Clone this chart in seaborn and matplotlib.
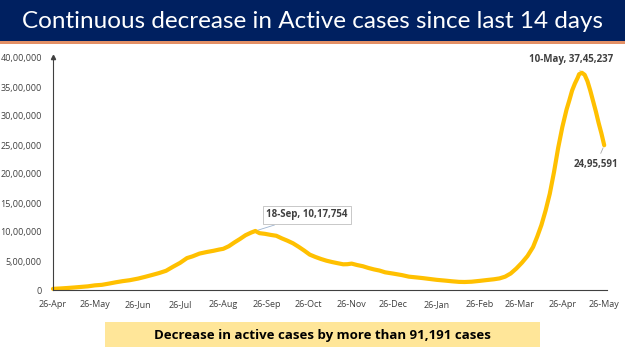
import matplotlib
matplotlib.use("Agg")
import matplotlib.pyplot as plt
import matplotlib.dates as mdates
from matplotlib.patches import Rectangle
from matplotlib.ticker import FuncFormatter
import seaborn as sns
import pandas as pd

# active cases (26 Apr 2020 - 26 May 2021)
dates = [
    "2020-04-26", "2020-05-01", "2020-05-06", "2020-05-11", "2020-05-16", "2020-05-21",
    "2020-05-26", "2020-05-31", "2020-06-05", "2020-06-10", "2020-06-15", "2020-06-20",
    "2020-06-26", "2020-07-01", "2020-07-06", "2020-07-11", "2020-07-16", "2020-07-21",
    "2020-07-26", "2020-07-31", "2020-08-04", "2020-08-09", "2020-08-14", "2020-08-19",
    "2020-08-23", "2020-08-26", "2020-08-30", "2020-09-03", "2020-09-07", "2020-09-11",
    "2020-09-15", "2020-09-18", "2020-09-21", "2020-09-25", "2020-09-29", "2020-10-03",
    "2020-10-07", "2020-10-11", "2020-10-15", "2020-10-19", "2020-10-23", "2020-10-27",
    "2020-10-31", "2020-11-04", "2020-11-08", "2020-11-12", "2020-11-16", "2020-11-20",
    "2020-11-23", "2020-11-26", "2020-11-30", "2020-12-04", "2020-12-08", "2020-12-12",
    "2020-12-16", "2020-12-20", "2020-12-26", "2021-01-01", "2021-01-06", "2021-01-11",
    "2021-01-16", "2021-01-21", "2021-01-26", "2021-02-01", "2021-02-06", "2021-02-11",
    "2021-02-15", "2021-02-20", "2021-02-26", "2021-03-03", "2021-03-08", "2021-03-12",
    "2021-03-16", "2021-03-20", "2021-03-24", "2021-03-28", "2021-04-01", "2021-04-05",
    "2021-04-08", "2021-04-11", "2021-04-14", "2021-04-17", "2021-04-20", "2021-04-23",
    "2021-04-26", "2021-04-29", "2021-05-01", "2021-05-03", "2021-05-05", "2021-05-07",
    "2021-05-08", "2021-05-10", "2021-05-12", "2021-05-14", "2021-05-16", "2021-05-18",
    "2021-05-20", "2021-05-22", "2021-05-24", "2021-05-26",
]
active = [
    20177, 26000, 34000, 43000, 53000, 63000,
    80000, 89000, 110000, 133000, 153000, 169000,
    197000, 227000, 259000, 292000, 331000, 401000,
    467000, 550000, 580000, 628000, 654000, 676000,
    697000, 710000, 755000, 820000, 880000, 945000,
    990000, 1017754, 980000, 968000, 950000, 935000,
    890000, 850000, 805000, 745000, 680000, 610000,
    570000, 535000, 505000, 482000, 462000, 443000,
    445000, 455000, 430000, 410000, 380000, 355000,
    335000, 305000, 282000, 257000, 230000, 218000,
    205000, 190000, 175000, 162000, 150000, 140000,
    138000, 143000, 158000, 172000, 185000, 200000,
    230000, 285000, 370000, 470000, 585000, 740000,
    920000, 1120000, 1370000, 1660000, 2030000, 2450000,
    2810000, 3110000, 3270000, 3440000, 3560000, 3660000,
    3720000, 3745237, 3710000, 3600000, 3440000, 3260000,
    3080000, 2880000, 2700000, 2495591,
]

title = "Continuous decrease in Active cases since last 14 days"
footer = "Decrease in active cases by more than 91,191 cases"
tick_dates = pd.date_range("2020-04-26", periods=14, freq=pd.DateOffset(months=1))
y_ticks = list(range(0, 4000001, 500000))


def indian(v, pos=None):
    v = int(round(v))
    if v == 0:
        return "0"
    s = str(v)
    last3, rest = s[-3:], s[:-3]
    groups = []
    while len(rest) > 2:
        groups.insert(0, rest[-2:])
        rest = rest[:-2]
    if rest:
        groups.insert(0, rest)
    return ",".join(groups + [last3])


df = pd.DataFrame({"date": pd.to_datetime(dates), "active": active})

sns.set_style("white")
plt.rcParams["font.family"] = ["Open Sans", "DejaVu Sans"]

fig = plt.figure(figsize=(6.25, 3.51), dpi=100)

# header bar
fig.patches.append(Rectangle((0, 1 - 41 / 351), 1, 41 / 351, transform=fig.transFigure,
                             fc="#002060", ec="none", zorder=0))
fig.patches.append(Rectangle((0, 1 - 44 / 351), 1, 3 / 351, transform=fig.transFigure,
                             fc="#E39066", ec="none", zorder=0))
fig.text(0.5, 1 - 21 / 351, title, color="white", fontsize=17.5, ha="center", va="center",
         family=["Lato", "DejaVu Sans"])

# footer banner
fig.patches.append(Rectangle((105 / 625, 1 - 347 / 351), 435 / 625, 25 / 351,
                             transform=fig.transFigure, fc="#FFE699", ec="none", zorder=0))
fig.text(322 / 625, 1 - 335 / 351, footer, color="black", fontsize=9.5, fontweight="bold",
         ha="center", va="center")

ax = fig.add_axes([53 / 625, 61 / 351, 554 / 625, 232 / 351])
sns.lineplot(data=df, x="date", y="active", ax=ax, color="#FFC000", lw=3, clip_on=False)

x0 = pd.Timestamp("2020-04-26")
ax.set_xlim(x0, x0 + pd.Timedelta(days=397))
ax.set_ylim(0, 4000000)
ax.set_xticks(tick_dates)
ax.xaxis.set_major_formatter(mdates.DateFormatter("%d-%b"))
ax.set_yticks(y_ticks)
ax.yaxis.set_major_formatter(FuncFormatter(indian))
ax.set_xlabel("")
ax.set_ylabel("")

for side in ["top", "right"]:
    ax.spines[side].set_visible(False)
for side in ["left", "bottom"]:
    ax.spines[side].set_color("#404040")
    ax.spines[side].set_linewidth(0.8)
ax.tick_params(axis="x", direction="out", length=4, width=0.8, color="#404040",
               labelsize=6.5, labelcolor="#404040", pad=3)
ax.tick_params(axis="y", length=0, labelsize=6.5, labelcolor="#404040", pad=8)
ax.plot(0, 1.005, marker="^", ms=3, color="#404040", transform=ax.transAxes, clip_on=False)

# callouts
ann = dict(fontsize=7, fontweight="bold", color="#404040", ha="center", va="center",
           textcoords="offset points")
ax.annotate("18-Sep, 10,17,754", xy=(pd.Timestamp("2020-09-18"), 1017754), xytext=(37, 11.5),
            bbox=dict(boxstyle="square,pad=0.35", fc="white", ec="#BFBFBF", lw=0.6),
            arrowprops=dict(arrowstyle="-", color="#9DB3CF", lw=0.6), **ann)
ax.annotate("10-May, 37,45,237", xy=(pd.Timestamp("2021-05-10"), 3745237), xytext=(-8, 9.5),
            arrowprops=dict(arrowstyle="-", color="#A6A6A6", lw=0.6), **ann)
ax.annotate("24,95,591", xy=(pd.Timestamp("2021-05-26"), 2495591), xytext=(-6, -14),
            arrowprops=dict(arrowstyle="-", color="#A6A6A6", lw=0.6), **ann)

fig.savefig("out.png", dpi=100)
